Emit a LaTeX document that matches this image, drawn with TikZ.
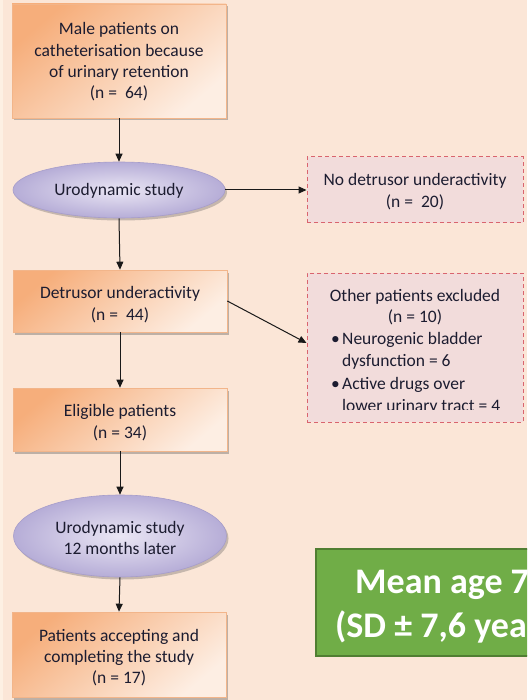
\documentclass[tikz,border=0pt]{standalone}
\usepackage{fontspec}
\setmainfont{Carlito}
\usetikzlibrary{arrows.meta,shadows,calc,shapes.geometric}
\definecolor{bg}{HTML}{FBE6D7}
\definecolor{bgL}{HTML}{FDF0E3}
\definecolor{orD}{HTML}{F6AE7B}
\definecolor{orL}{HTML}{FDEEE3}
\definecolor{orB}{HTML}{F2B58A}
\definecolor{lavI}{HTML}{EAE6F4}
\definecolor{lavO}{HTML}{B6ADD7}
\definecolor{lavB}{HTML}{A69DCA}
\definecolor{pinkF}{HTML}{F2DCDB}
\definecolor{pinkD}{HTML}{D9646E}
\definecolor{grF}{HTML}{70AD47}
\definecolor{grB}{HTML}{507E32}
\definecolor{txt}{HTML}{1C1C30}
\tikzset{
  obox/.style={rectangle, draw=orB, line width=0.6pt, top color=orD, bottom color=orL, shading angle=40,
    inner sep=0pt, minimum width=214pt,
    drop shadow={shadow xshift=2pt, shadow yshift=-2.5pt, opacity=0.35, fill=black!70}},
  ebox/.style={ellipse, draw=lavB, line width=0.6pt, inner color=lavI, outer color=lavO, inner sep=0pt,
    drop shadow={shadow xshift=2pt, shadow yshift=-2.5pt, opacity=0.3, fill=black!70}},
  xbox/.style={rectangle, draw=pinkD, fill=pinkF, line width=1pt, dash pattern=on 4pt off 3pt, inner sep=0pt,
    minimum width=216pt},
  txtn/.style={text=txt, font=\fontsize{17.5}{21.3}\selectfont, align=center, inner sep=0pt},
  btxt/.style={text=txt, font=\fontsize{17.5}{21.3}\selectfont, inner sep=0pt, anchor=base west},
  gtxt/.style={text=white, font=\fontsize{36}{44}\selectfont\bfseries, inner sep=0pt, anchor=base west},
  arr/.style={draw=black!90, line width=1pt, -{Triangle[length=8pt,width=7pt]}}
}
\begin{document}
\begin{tikzpicture}[x=1pt,y=-1pt]
\useasboundingbox (0,0) rectangle (527,700);
\clip (0,0) rectangle (527,700);
\fill[bg] (0,0) rectangle (527,700);
\fill[bgL] (0,0) rectangle (3,700);

% main column
\node[obox, minimum height=114pt] (a) at (119,61) {};
\node[txtn] (at) at (119,62) {Male patients on\\catheterisation because\\of urinary retention\\(n = \ 64)};

\node[ebox, minimum width=212pt, minimum height=56pt] (e1) at (119,190) {};
\node[txtn] (e1t) at (119,191) {Urodynamic study};

\node[obox, minimum height=62pt] (b) at (120,301) {};
\node[txtn] (bt) at (120,304.5) {Detrusor underactivity\\(n = \ 44)};

\node[obox, minimum height=63pt] (c) at (120,419.5) {};
\node[txtn] (ct) at (120,422.5) {Eligible patients\\(n = 34)};

\node[ebox, minimum width=213pt, minimum height=82pt] (e2) at (120,536) {};
\node[txtn] (e2t) at (120,538) {Urodynamic study\\12 months later};

\node[obox, minimum height=85pt] (d) at (119,654.5) {};
\node[txtn] (dt) at (119,657.5) {Patients accepting and\\completing the study\\(n = 17)};

% excluded boxes
\node[xbox, minimum height=66pt] (x1) at (415,190) {};
\node[txtn] (x1t) at (415,191.5) {No detrusor underactivity\\(n = \ 20)};

\node[xbox, minimum height=149pt] (x2) at (415,347.5) {};
\node[txtn] (x2t) at (415,307) {Other patients excluded\\(n = 10)};
\begin{scope}
\clip (307,273) rectangle (523,409.5);
\node[btxt] (b1) at (331,344) {•};
\node[btxt] (l1) at (342,344) {Neurogenic bladder};
\node[btxt] (l2) at (342,366) {dysfunction = 6};
\node[btxt] (b2) at (331,389) {•};
\node[btxt] (l3) at (342,389) {Active drugs over};
\node[btxt] (l4) at (342,411) {lower urinary tract = 4};
\end{scope}

% green box
\node[rectangle, fill=grF, draw=grB, line width=2pt, minimum width=260pt, minimum height=107pt, inner sep=0pt] (g) at (446,602.5) {};
\node[gtxt] (g1) at (355,593) {Mean age 7};
\node[gtxt] (g2) at (335,637) {(SD ± 7,6 yea};

% connectors
\draw[arr] (a.south) -- (e1.north);
\draw[arr] (e1.east) -- (x1.west);
\draw[arr] (e1.south) -- (b.north);
\draw[arr] (b.east) -- ($(x2.west)+(0,-4.5)$);
\draw[arr] (b.south) -- (c.north);
\draw[arr] (c.south) -- (e2.north);
\draw[arr] (e2.south) -- (d.north);
\end{tikzpicture}
\end{document}
